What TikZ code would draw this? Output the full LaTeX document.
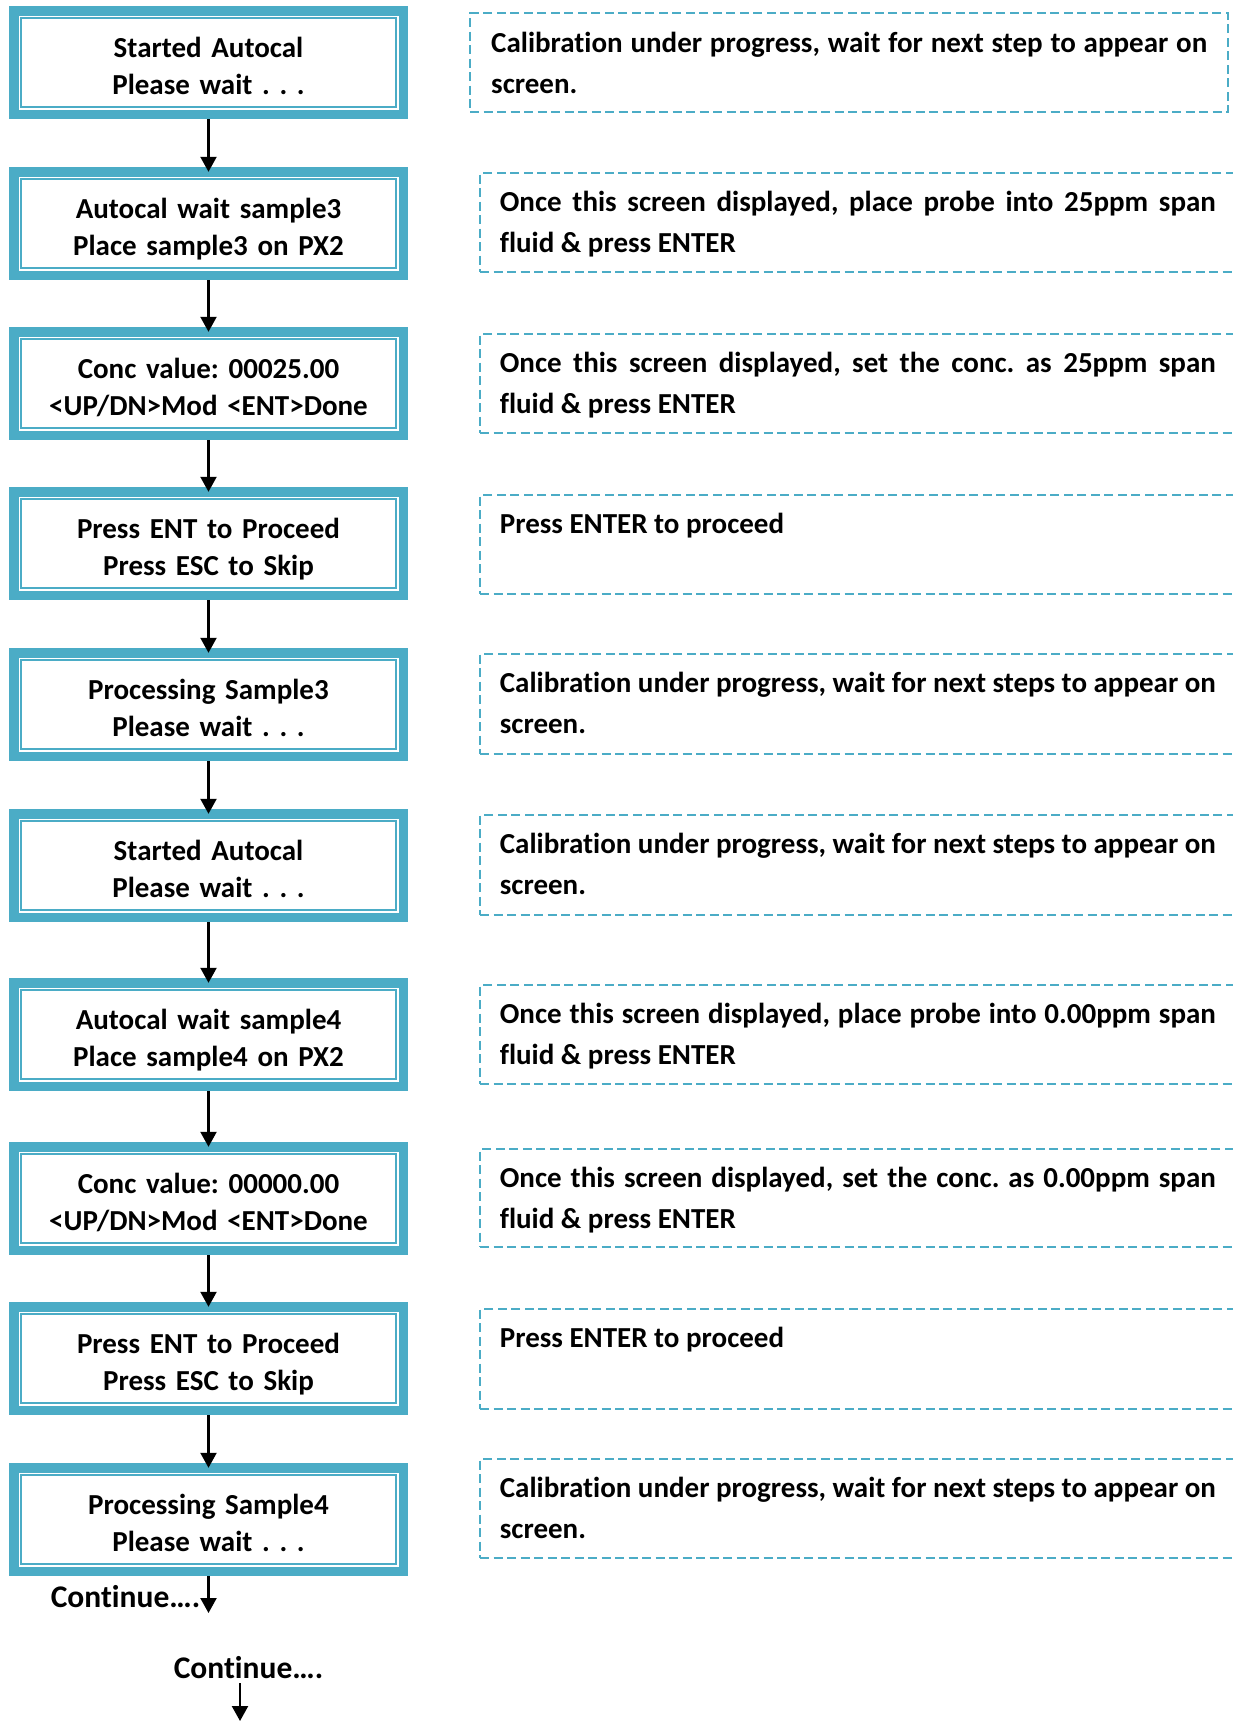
\documentclass[tikz,border=0pt]{standalone}
\usepackage{fontspec}
\setmainfont{Carlito}[Ligatures={NoCommon}]
\usetikzlibrary{arrows.meta,calc}
\definecolor{teal1}{HTML}{4BACC6}
\frenchspacing
\tikzset{
  lbox/.style={minimum width=399pt, minimum height=113pt, inner sep=0pt, fill=teal1, draw=none,
    path picture={
      \fill[white] ([xshift=9.5pt,yshift=9.5pt]path picture bounding box.south west) rectangle ([xshift=-9.5pt,yshift=-9.5pt]path picture bounding box.north east);
      \draw[teal1, line width=2pt] ([xshift=12pt,yshift=12pt]path picture bounding box.south west) rectangle ([xshift=-12pt,yshift=-12pt]path picture bounding box.north east);
    }},
  ltext/.style={anchor=base, inner sep=0pt, text width=380pt, align=center, font=\fontsize{29}{36.5}\selectfont\bfseries\frenchspacing},
  dbox/.style={draw=teal1, line width=2.7pt, dash pattern=on 9pt off 4.5pt, inner sep=0pt},
  rtext/.style={anchor=base west, inner sep=0pt, text width=716pt, align=justify, font=\fontsize{29}{41}\selectfont\bfseries\frenchspacing},
  ctext/.style={anchor=base, inner sep=0pt, font=\fontsize{31.5}{36}\selectfont\bfseries},
  arr/.style={line width=2.2pt, -{Triangle[width=16pt,length=15pt]}, shorten >=-5pt},
}
\begin{document}
\begin{tikzpicture}[x=1pt,y=-1pt]
\useasboundingbox (0,0) rectangle (1233,1721);
\clip (0,0) rectangle (1233,1721);
% left boxes
\foreach \n/\t in {1/6,2/167,3/327,4/487,5/648,6/809,7/978,8/1142,9/1302,10/1463}{
  \node[lbox] (b\n) at (208.5,\t+56.5) {};
}
\node[ltext] (lt1) at ([yshift=-52pt]b1.north) {Started Autocal\\Please wait . . .};
\node[ltext] (lt2) at ([yshift=-52pt]b2.north) {Autocal wait sample3\\Place sample3 on PX2};
\node[ltext] (lt3) at ([yshift=-52pt]b3.north) {Conc value: 00025.00\\{<}UP/DN{>}Mod {<}ENT{>}Done};
\node[ltext] (lt4) at ([yshift=-52pt]b4.north) {Press ENT to Proceed\\Press ESC to Skip};
\node[ltext] (lt5) at ([yshift=-52pt]b5.north) {Processing Sample3\\Please wait . . .};
\node[ltext] (lt6) at ([yshift=-52pt]b6.north) {Started Autocal\\Please wait . . .};
\node[ltext] (lt7) at ([yshift=-52pt]b7.north) {Autocal wait sample4\\Place sample4 on PX2};
\node[ltext] (lt8) at ([yshift=-52pt]b8.north) {Conc value: 00000.00\\{<}UP/DN{>}Mod {<}ENT{>}Done};
\node[ltext] (lt9) at ([yshift=-52pt]b9.north) {Press ENT to Proceed\\Press ESC to Skip};
\node[ltext] (lt10) at ([yshift=-52pt]b10.north) {Processing Sample4\\Please wait . . .};
% arrows
\foreach \a/\b in {1/2,2/3,3/4,4/5,5/6,6/7,7/8,8/9,9/10}{
  \draw[arr] (b\a.south) -- (b\b.north);
}
\coordinate (e1) at (208.5,1608);
\draw[arr] (b10.south) -- (e1);
\node[ctext] (c1) at (125.5,1607) {Continue….};
\node[ctext] (c2) at (248.5,1678) {Continue….};
\coordinate (s2) at (240,1683);
\coordinate (e2) at (240,1716);
\draw[arr] (s2) -- (e2);
% right dashed boxes
\node[dbox, minimum width=758pt, minimum height=99pt] (d1) at (849,62.5) {};
\foreach \n/\t/\b in {2/173/272,3/334/433,4/495/594,5/654/754,6/815/915,7/985/1084,8/1149/1247,9/1309/1409,10/1459/1558}{
  \node[dbox, minimum width=780pt, minimum height=\b-\t] (d\n) at (870,{(\t+\b)/2}) {};
}
\node[rtext] (rt1) at (491,52) {Calibration under progress, wait for next step to appear on screen.};
\node[rtext] (rt2) at ([xshift=21pt,yshift=-40pt]d2.north west) {Once this screen displayed, place probe into 25ppm span\linebreak fluid \& press ENTER};
\node[rtext] (rt3) at ([xshift=21pt,yshift=-40pt]d3.north west) {Once this screen displayed, set the conc. as 25ppm span\linebreak fluid \& press ENTER};
\node[rtext] (rt4) at ([xshift=21pt,yshift=-40pt]d4.north west) {Press ENTER to proceed};
\node[rtext] (rt5) at ([xshift=21pt,yshift=-40pt]d5.north west) {Calibration under progress, wait for next steps to appear on\linebreak screen.};
\node[rtext] (rt6) at ([xshift=21pt,yshift=-40pt]d6.north west) {Calibration under progress, wait for next steps to appear on\linebreak screen.};
\node[rtext] (rt7) at ([xshift=21pt,yshift=-40pt]d7.north west) {Once this screen displayed, place probe into 0.00ppm span\linebreak fluid \& press ENTER};
\node[rtext] (rt8) at ([xshift=21pt,yshift=-40pt]d8.north west) {Once this screen displayed, set the conc. as 0.00ppm span\linebreak fluid \& press ENTER};
\node[rtext] (rt9) at ([xshift=21pt,yshift=-40pt]d9.north west) {Press ENTER to proceed};
\node[rtext] (rt10) at ([xshift=21pt,yshift=-40pt]d10.north west) {Calibration under progress, wait for next steps to appear on\linebreak screen.};
\end{tikzpicture}
\end{document}
